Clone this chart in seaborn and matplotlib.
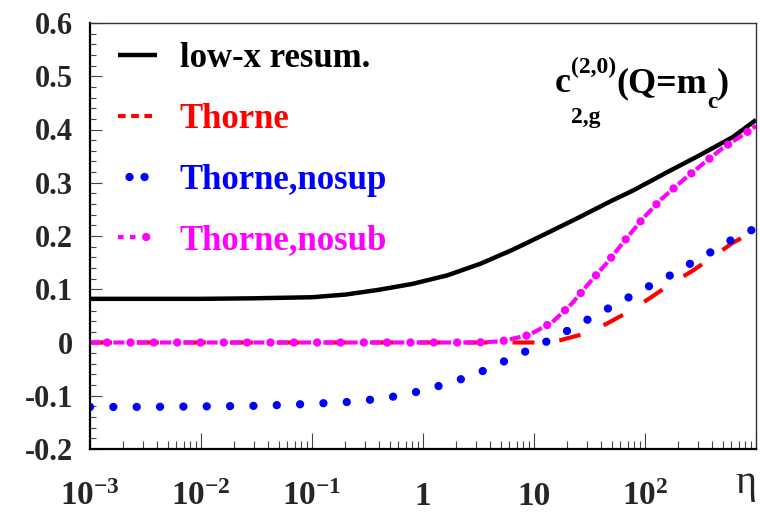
import numpy as np
import pandas as pd
import matplotlib
matplotlib.use("Agg")
import matplotlib.pyplot as plt
import seaborn as sns
from matplotlib.lines import Line2D
from matplotlib.legend_handler import HandlerTuple
from matplotlib.ticker import FixedLocator, LogLocator, MultipleLocator, NullFormatter

# ---------------- data ----------------
eta_resum = [1e-3, 3e-3, 1e-2, 0.03, 0.1, 0.2, 0.4, 0.8, 1.65, 3.3, 6.4, 13, 26, 51, 79, 159, 313, 620, 1000]
c_resum = [0.082, 0.082, 0.082, 0.083, 0.085, 0.090, 0.099, 0.110, 0.126, 0.148, 0.174, 0.205,
           0.236, 0.267, 0.286, 0.320, 0.352, 0.386, 0.418]

eta_thorne = [1e-3, 1e-2, 0.1, 1, 5, 10, 13, 17, 28, 45, 70, 110, 165, 265, 410, 615, 1000]
c_thorne = [0.0, 0.0, 0.0, 0.0, 0.0, 0.0, 0.0, 0.004, 0.016, 0.035, 0.057, 0.083, 0.108,
            0.134, 0.161, 0.187, 0.211]

eta_nosup = [1e-3, 3e-3, 1e-2, 0.03, 0.06, 0.1, 0.2, 0.4, 0.65, 1.0, 1.6, 2.7, 4.2, 6.7, 10.7,
             17, 27, 42, 66, 105, 165, 260, 410, 640, 1000]
c_nosup = [-0.121, -0.121, -0.120, -0.119, -0.117, -0.115, -0.112, -0.106, -0.099, -0.090,
           -0.078, -0.063, -0.046, -0.026, -0.007, 0.014, 0.037, 0.059, 0.081, 0.104, 0.125,
           0.149, 0.172, 0.196, 0.215]

eta_nosub = [1e-3, 1e-2, 0.1, 1, 3, 5, 9, 14.6, 21.7, 31.5, 46, 66, 95, 140, 215, 330, 500, 780, 1000]
c_nosub = [0.0, 0.0, 0.0, 0.0, 0.0, 0.002, 0.014, 0.038, 0.072, 0.112, 0.151, 0.192, 0.232,
           0.269, 0.303, 0.335, 0.365, 0.391, 0.407]

labels = ["low-x resum.", "Thorne", "Thorne,nosup", "Thorne,nosub"]
colors = ["black", "#ff0000", "#0000ff", "#ff00ff"]

xtick_vals = [1e-3, 1e-2, 1e-1, 1, 10, 100]
xtick_labels = [r"$10^{-3}$", r"$10^{-2}$", r"$10^{-1}$", "1", "10", r"$10^{2}$"]
ytick_vals = [-0.2, -0.1, 0.0, 0.1, 0.2, 0.3, 0.4, 0.5, 0.6]
ytick_labels = ["-0.2", "-0.1", "0", "0.1", "0.2", "0.3", "0.4", "0.5", "0.6"]

# ---------------- style ----------------
sns.set_style("white")
plt.rcParams["font.family"] = ["Liberation Serif", "DejaVu Serif"]
plt.rcParams["font.weight"] = "bold"
plt.rcParams["mathtext.fontset"] = "custom"
plt.rcParams["mathtext.rm"] = "Liberation Serif:bold"
plt.rcParams["mathtext.it"] = "Liberation Serif:bold"
plt.rcParams["mathtext.bf"] = "Liberation Serif:bold"
plt.rcParams["mathtext.default"] = "rm"
plt.rcParams["lines.scale_dashes"] = False

W, H = 760, 513
fig = plt.figure(figsize=(W / 100, H / 100), dpi=100)
ax = fig.add_axes([90 / W, 64 / H, 666 / W, 426 / H])
ax.set_xscale("log")

def draw(x, y, color, lw):
    df = pd.DataFrame({"eta": x, "c": y})
    sns.lineplot(data=df, x="eta", y="c", ax=ax, color=color, linewidth=lw,
                 estimator=None, sort=False, legend=False)
    return ax.lines[-1]

l_res = draw(eta_resum, c_resum, colors[0], 3.2)
l_res.set_solid_capstyle("butt")
l_res.set_solid_joinstyle("round")

l_th = draw(eta_thorne, c_thorne, colors[1], 3.0)
l_th.set_linestyle((0, (15.8, 18.0)))
l_th.set_dash_capstyle("butt")

l_nsup = draw(eta_nosup, c_nosup, colors[2], 6.0)
l_nsup.set_linestyle((0, (0.01, 16.8)))
l_nsup.set_dash_capstyle("round")

l_nsub_d = draw(eta_nosub, c_nosub, colors[3], 3.0)
l_nsub_d.set_linestyle((0, (7.9, 8.9)))
l_nsub_d.set_dash_capstyle("butt")
l_nsub_p = draw(eta_nosub, c_nosub, colors[3], 6.0)
l_nsub_p.set_linestyle((4.45, (0.01, 16.79)))
l_nsub_p.set_dash_capstyle("round")

# ---------------- axes ----------------
ax.set_xlim(1e-3, 1e3)
ax.set_ylim(-0.2, 0.6)
ax.set_xlabel("")
ax.set_ylabel("")

ax.set_xticks(xtick_vals + [1000])
ax.set_xticklabels(xtick_labels + [""])
ax.xaxis.set_minor_locator(LogLocator(base=10, subs=np.arange(2, 10), numticks=20))
ax.xaxis.set_minor_formatter(NullFormatter())
ax.set_yticks(ytick_vals)
ax.set_yticklabels(ytick_labels)
ax.yaxis.set_minor_locator(MultipleLocator(0.02))

ax.tick_params(axis="x", which="major", direction="in", length=11.5, width=0.8,
               color="#444444", labelsize=24, pad=40, top=False, bottom=True)
ax.tick_params(axis="x", which="minor", direction="in", length=5.8, width=0.8,
               color="#444444", top=False, bottom=True)
ax.tick_params(axis="y", which="major", direction="in", length=8.6, width=0.8,
               color="#444444", labelsize=22, pad=12, left=True, right=False)
ax.tick_params(axis="y", which="minor", direction="in", length=4.3, width=0.8,
               color="#444444", left=True, right=False)
for lab in ax.get_xticklabels():
    lab.set_verticalalignment("baseline")
    lab.set_fontweight("bold")
for lab in ax.get_yticklabels():
    lab.set_fontweight("bold")

for side in ["left", "bottom"]:
    ax.spines[side].set_linewidth(1.6)
    ax.spines[side].set_color("black")
for side in ["top", "right"]:
    ax.spines[side].set_linewidth(1.0)
    ax.spines[side].set_color("#333333")
    ax.spines[side].set_visible(True)

# axis title
ax.text((746 - 90) / 666, -0.038, "η", transform=ax.transAxes, ha="center", va="top",
        fontsize=29, fontweight="normal", family=["Liberation Serif", "DejaVu Serif"])

# ---------------- annotation c^{(2,0)}_{2,g}(Q=m_c) ----------------
renderer = fig.canvas.get_renderer()

def ptext(x, y, s, size):
    t = fig.text(x / W, 1 - y / H, s, ha="left", va="baseline", fontsize=size,
                 fontweight="bold", color="black")
    return t

t_c = ptext(555, 92, "c", 26)
x_after_c = t_c.get_window_extent(renderer).x1
ptext(x_after_c, 73, "(2,0)", 17)
ptext(x_after_c, 123, "2,g", 17)
t_sup = fig.texts[-2]
x_after_sup = t_sup.get_window_extent(renderer).x1
t_q = ptext(x_after_sup, 92, "(Q=m", 26)
x_after_q = t_q.get_window_extent(renderer).x1
t_sc = ptext(x_after_q, 108, "c", 17)
x_after_sc = t_sc.get_window_extent(renderer).x1
ptext(x_after_sc, 92, ")", 26)

# ---------------- legend ----------------
h_res = Line2D([], [], color=colors[0], lw=3.2, solid_capstyle="butt")
h_th = Line2D([], [], color=colors[1], lw=3.0, linestyle=(0, (5.5, 4.0)), dash_capstyle="butt")
h_nsup = Line2D([], [], color=colors[2], lw=6.0, linestyle=(2.5, (0.01, 10.8)), dash_capstyle="round")
h_nsub_d = Line2D([], [], color=colors[3], lw=3.0, linestyle=(0, (4.0, 4.6)), dash_capstyle="butt")
h_nsub_p = Line2D([], [], color=colors[3], lw=6.0, linestyle=(2.0, (0.01, 8.6)), dash_capstyle="round")

leg = ax.legend([h_res, h_th, h_nsup, (h_nsub_d, h_nsub_p)], labels,
                handler_map={tuple: HandlerTuple(ndivide=None, pad=0)},
                loc="upper left", bbox_to_anchor=((118 - 90) / 666, 0.955),
                frameon=False, handlelength=1.12, handletextpad=0.66,
                labelspacing=0.8, borderpad=0, borderaxespad=0,
                labelcolor=colors, prop={"family": "Liberation Serif", "weight": "bold", "size": 25})

fig.savefig("out.png", dpi=100)
